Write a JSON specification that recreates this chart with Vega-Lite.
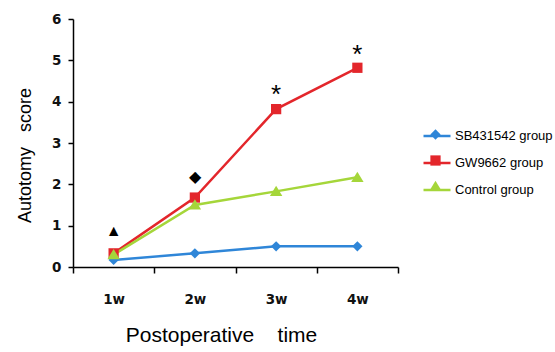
{
  "$schema": "https://vega.github.io/schema/vega-lite/v6.json",
  "width": 325,
  "height": 248,
  "autosize": "none",
  "padding": {"left": 73, "top": 19, "right": 157, "bottom": 85},
  "background": "white",
  "config": {"view": {"stroke": null}, "font": "Liberation Sans"},
  "datasets": {
    "series": [
      {"week": "1w", "group": "SB431542 group", "grp": "SB431542 group ", "score": 0.17},
      {"week": "2w", "group": "SB431542 group", "grp": "SB431542 group ", "score": 0.33},
      {"week": "3w", "group": "SB431542 group", "grp": "SB431542 group ", "score": 0.5},
      {"week": "4w", "group": "SB431542 group", "grp": "SB431542 group ", "score": 0.5},
      {"week": "1w", "group": "GW9662 group", "grp": "GW9662 group ", "score": 0.33},
      {"week": "2w", "group": "GW9662 group", "grp": "GW9662 group ", "score": 1.68},
      {"week": "3w", "group": "GW9662 group", "grp": "GW9662 group ", "score": 3.82},
      {"week": "4w", "group": "GW9662 group", "grp": "GW9662 group ", "score": 4.82},
      {"week": "1w", "group": "Control group", "grp": "Control group ", "score": 0.3},
      {"week": "2w", "group": "Control group", "grp": "Control group ", "score": 1.5},
      {"week": "3w", "group": "Control group", "grp": "Control group ", "score": 1.83},
      {"week": "4w", "group": "Control group", "grp": "Control group ", "score": 2.17}
    ],
    "marks": [
      {"week": "1w", "score": 0.87, "label": "▲"},
      {"week": "2w", "score": 2.17, "label": "◆"},
      {"week": "3w", "score": 4.17, "label": "*"},
      {"week": "4w", "score": 5.13, "label": "*"}
    ]
  },
  "layer": [
    {
      "data": {"name": "series"},
      "mark": {"type": "line", "strokeWidth": 2.5},
      "encoding": {
        "x": {
          "field": "week", "type": "ordinal",
          "scale": {"domain": ["1w", "2w", "3w", "4w"], "paddingInner": 0, "paddingOuter": 0},
          "axis": {
            "title": "Postoperative\u00a0\u00a0\u00a0\u00a0time",
            "titleFont": "Liberation Sans", "titleFontSize": 21, "titleFontWeight": "normal",
            "titleColor": "black", "titlePadding": 19, "titleX": 148,
            "labelAngle": 0, "labelFont": "DejaVu Sans", "labelFontSize": 13.5, "labelFontWeight": "bold",
            "labelColor": "#111", "labelPadding": 19,
            "tickBand": "extent", "tickSize": 6, "tickColor": "black", "tickWidth": 1.5,
            "domainColor": "black", "domainWidth": 1.5, "grid": false
          }
        },
        "y": {
          "field": "score", "type": "quantitative",
          "scale": {"domain": [0, 6], "nice": false},
          "axis": {
            "title": "Autotomy\u00a0\u00a0\u00a0score",
            "titleFont": "Liberation Sans", "titleFontSize": 18, "titleFontWeight": "normal",
            "titleColor": "black", "titlePadding": 17, "titleY": 136,
            "values": [0, 1, 2, 3, 4, 5, 6],
            "labelFont": "DejaVu Sans", "labelFontSize": 13.5, "labelFontWeight": "bold",
            "labelColor": "#111", "labelPadding": 7,
            "tickSize": 5, "tickColor": "black", "tickWidth": 1.5,
            "domainColor": "black", "domainWidth": 1.5, "grid": false
          }
        },
        "stroke": {
          "field": "group", "type": "nominal",
          "scale": {"domain": ["SB431542 group", "GW9662 group", "Control group"], "range": ["#2f86d8", "#e3262b", "#a5d63a"]},
          "legend": {
            "title": null, "orient": "none", "legendX": 349, "legendY": 102,
            "symbolType": "M-1,0H1", "symbolSize": 729, "symbolStrokeWidth": 2.5,
            "labelFont": "Liberation Sans", "labelFontSize": 13, "labelColor": "black",
            "labelOffset": 3, "rowPadding": 5, "labelLimit": 200
          }
        }
      }
    },
    {
      "data": {"name": "series"},
      "mark": {"type": "point", "filled": true, "opacity": 1, "size": 729},
      "encoding": {
        "x": {"field": "week", "type": "ordinal"},
        "y": {"field": "score", "type": "quantitative"},
        "fill": {
          "field": "grp", "type": "nominal",
          "scale": {"domain": ["SB431542 group ", "GW9662 group ", "Control group "], "range": ["#2f86d8", "#e3262b", "#a5d63a"]},
          "legend": {
            "title": null, "orient": "none", "legendX": 349, "legendY": 102,
            "symbolSize": 729, "symbolOpacity": 1, "symbolStrokeWidth": 0,
            "labelFont": "Liberation Sans", "labelFontSize": 13, "labelExpr": "''",
            "labelOffset": 3, "rowPadding": 5, "labelLimit": 200
          }
        },
        "shape": {
          "field": "grp", "type": "nominal",
          "scale": {"domain": ["SB431542 group ", "GW9662 group ", "Control group "], "range": ["M0,-0.38L0.38,0L0,0.38L-0.38,0Z", "M-0.38,-0.38H0.38V0.38H-0.38Z", "M0,-0.42L0.46,0.34L-0.46,0.34Z"]}
        }
      }
    },
    {
      "data": {"name": "marks"},
      "mark": {"type": "text", "fontSize": 16, "color": "black", "baseline": "middle", "font": "Liberation Sans"},
      "encoding": {
        "x": {"field": "week", "type": "ordinal"},
        "y": {"field": "score", "type": "quantitative"},
        "text": {"field": "label"},
        "size": {"condition": {"test": "datum.label === '*'", "value": 26}, "value": 16}
      }
    }
  ]
}
